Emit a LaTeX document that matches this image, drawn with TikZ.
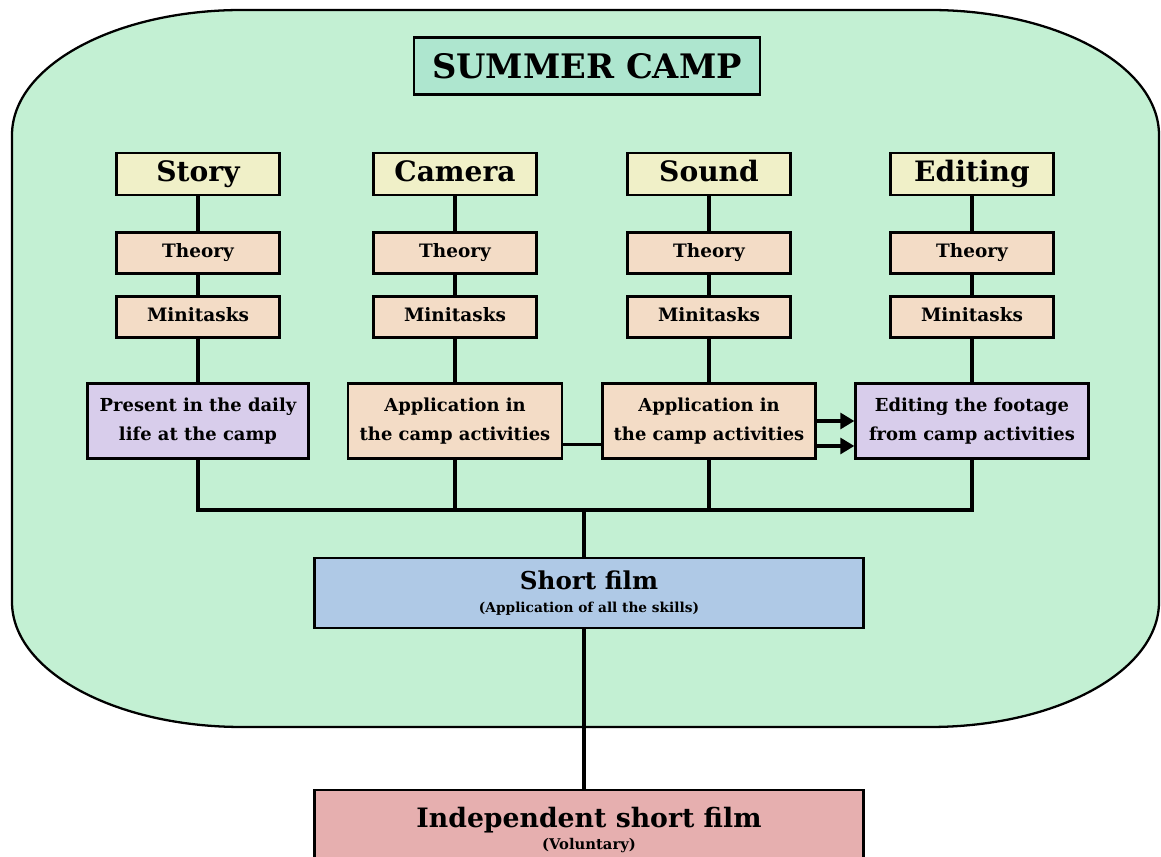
\documentclass[tikz,border=0pt]{standalone}
\usepackage{fontspec}
\setmainfont{DejaVu Serif}
\usetikzlibrary{arrows.meta}
\definecolor{campgreen}{HTML}{C3F0D3}
\definecolor{titlegreen}{HTML}{AEE6CF}
\definecolor{headyellow}{HTML}{F0F0C8}
\definecolor{peach}{HTML}{F3DCC6}
\definecolor{lilac}{HTML}{D8CDEB}
\definecolor{filmblue}{HTML}{AFC9E6}
\definecolor{filmpink}{HTML}{E6AFAF}
\begin{document}
\begin{tikzpicture}[x=0.02cm,y=-0.02cm,
    box/.style={draw=black,line width=1.3pt,inner sep=2pt},
    head/.style={box,fill=headyellow,minimum width=3.26cm,minimum height=0.84cm,
      text height=12pt,text depth=3.5pt,font=\bfseries\fontsize{16}{18}\selectfont},
    stepbox/.style={box,fill=peach,minimum width=3.26cm,minimum height=0.82cm,
      text height=8pt,text depth=2.5pt,font=\bfseries\fontsize{10.5}{12}\selectfont},
    appbox/.style={box,minimum height=1.5cm,align=center,font=\bfseries\fontsize{10.2}{17}\selectfont},
    filmbox/.style={box,minimum width=10.98cm,align=center},
    link/.style={line width=2pt}]
  \useasboundingbox (0,0) rectangle (1161,857);
  % camp background
  \draw[fill=campgreen,line width=1.3pt]
    (12,135) .. controls (12,66) and (115,10) .. (242,10)
    -- (930,10) .. controls (1057,10) and (1159,66) .. (1159,135)
    -- (1159,602) .. controls (1159,671) and (1057,727) .. (930,727)
    -- (242,727) .. controls (115,727) and (12,671) .. (12,602) -- cycle;
  \node[box,fill=titlegreen,minimum width=6.92cm,minimum height=1.14cm,
    font=\bfseries\fontsize{19.2}{22}\selectfont] (camp) at (587,66) {SUMMER CAMP};
  % columns
  \node[head] (story) at (198,174) {Story};
  \node[head] (camera) at (455,174) {Camera};
  \node[head] (sound) at (709,174) {Sound};
  \node[head] (editing) at (972,174) {Editing};
  \node[stepbox] (storyth) at (198,253) {Theory};
  \node[stepbox] (camth) at (455,253) {Theory};
  \node[stepbox] (soundth) at (709,253) {Theory};
  \node[stepbox] (editth) at (972,253) {Theory};
  \node[stepbox] (storymt) at (198,317) {Minitasks};
  \node[stepbox] (cammt) at (455,317) {Minitasks};
  \node[stepbox] (soundmt) at (709,317) {Minitasks};
  \node[stepbox] (editmt) at (972,317) {Minitasks};
  \node[appbox,fill=lilac,minimum width=4.42cm] (storyapp) at (198,421) {Present in the daily\\life at the camp};
  \node[appbox,fill=peach,minimum width=4.28cm] (camapp) at (455,421) {Application in\\the camp activities};
  \node[appbox,fill=peach,minimum width=4.26cm] (soundapp) at (709,421) {Application in\\the camp activities};
  \node[appbox,fill=lilac,minimum width=4.66cm] (editapp) at (972,421) {Editing the footage\\from camp activities};
  \coordinate (bus) at (584,510);
  \node[filmbox,fill=filmblue,minimum height=1.4cm] (short) at (589,593)
    {{\bfseries\fontsize{14}{16}\selectfont Short film}\\[1pt]{\bfseries\fontsize{7.8}{9}\selectfont (Application of all the skills)}};
  \node[filmbox,fill=filmpink,minimum height=1.6cm] (indep) at (589,830)
    {{\bfseries\fontsize{15.2}{17}\selectfont Independent short film}\\[1pt]{\bfseries\fontsize{8.4}{10}\selectfont (Voluntary)}};
  \begin{scope}[link]
    \draw (story) -- (storyth) -- (storymt) -- (storyapp);
    \draw (camera) -- (camth) -- (cammt) -- (camapp);
    \draw (sound) -- (soundth) -- (soundmt) -- (soundapp);
    \draw (editing) -- (editth) -- (editmt) -- (editapp);
    \draw (storyapp) -- (storyapp |- bus) -- (editapp |- bus) -- (editapp);
    \draw (camapp) -- (camapp |- bus);
    \draw (soundapp) -- (soundapp |- bus);
    \draw (bus) -- (bus |- short.north);
    \draw (bus |- short.south) -- (bus |- indep.north);
    \draw ([yshift=-0.47cm]camapp.east) -- ([yshift=-0.47cm]soundapp.west);
    \draw[-{Triangle[length=8pt,width=9pt]}] (soundapp) -- (editapp);
    \draw[-{Triangle[length=8pt,width=9pt]}] ([yshift=-0.5cm]soundapp.east) -- ([yshift=-0.5cm]editapp.west);
  \end{scope}
\end{tikzpicture}
\end{document}
